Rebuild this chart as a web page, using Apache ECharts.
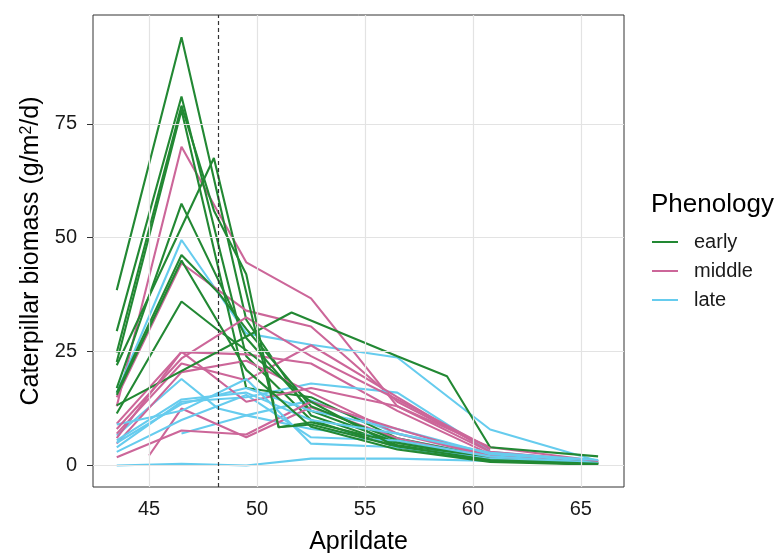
<!DOCTYPE html>
<html>
<head>
<meta charset="utf-8">
<style>
  html, body { margin: 0; padding: 0; background: #fff; }
  #chart { width: 778px; height: 553px; }
</style>
<script src="https://cdn.jsdelivr.net/npm/echarts@6/dist/echarts.min.js"></script>
</head>
<body>
<div id="chart"></div>
<script>
// x ticks / y ticks
const xTicks = [45, 50, 55, 60, 65];
const yTicks = [0, 25, 50, 75];
const cutoffDate = 48.2;

// each line: [aprildate, biomass]
const early = [
  [[43.5, 38.5], [46.5, 94], [49.5, 32], [52.5, 11], [56.5, 4.5], [60.8, 1.2], [65.8, 0.4]],
  [[43.5, 29.5], [46.5, 81], [49.5, 24], [52.5, 10], [56.5, 4], [60.8, 1], [65.8, 0.3]],
  [[43.5, 24.8], [46.5, 79], [48, 56], [49.5, 42], [51, 8.4], [52.5, 9.5], [56.5, 5], [60.8, 1.5], [65.8, 0.5]],
  [[43.5, 22.7], [46.5, 78], [49.5, 17], [52.5, 15], [56.5, 6], [60.8, 1.8], [65.8, 0.6]],
  [[43.5, 17], [46.5, 57.5], [49.5, 28], [52.5, 12], [56.5, 5], [60.8, 1.3], [65.8, 0.4]],
  [[43.5, 16], [46.5, 46.2], [48.2, 38], [49.5, 30], [52.5, 13], [56.5, 5.5], [60.8, 1.5], [65.8, 0.5]],
  [[43.5, 11.4], [46.5, 36], [48.2, 29.7], [49.5, 25.3], [52.5, 14], [56.5, 4], [60.8, 1], [65.8, 0.3]],
  [[43.5, 13.2], [51.6, 33.6], [56.5, 24], [58.8, 19.6], [60.8, 4], [65.8, 2]],
  [[43.5, 22], [48, 67.5], [49.5, 38], [51, 8.4], [52.5, 9], [56.5, 4.2], [60.8, 1.2], [65.8, 0.4]],
  [[43.5, 15.5], [46.5, 45], [49.5, 21], [52.5, 8.5], [56.5, 3.5], [60.8, 0.8], [65.8, 0.2]]
];

const middle = [
  [[43.5, 13], [46.5, 70], [49.5, 44.6], [52.5, 36.7], [56.5, 13], [60.8, 3]],
  [[43.5, 15], [46.5, 44.4], [49.5, 34], [52.5, 30.5], [56.5, 14], [60.8, 3.5]],
  [[43.5, 9.2], [46.5, 24.9], [49.5, 24.4], [52.5, 22.4], [56.5, 12], [60.8, 2.5], [65.8, 0.8]],
  [[43.5, 7], [46.5, 22.4], [49.5, 18.7], [52.5, 26.4], [56.5, 15], [60.8, 3], [65.8, 1]],
  [[43.5, 4.8], [46.5, 20.5], [49.5, 23], [52.5, 16], [56.5, 7], [60.8, 2], [65.8, 0.5]],
  [[45, 2.2], [46.5, 12.5], [49.5, 6.2], [52.5, 12.8], [56.5, 6], [60.8, 1.5], [65.8, 0.4]],
  [[43.5, 1.8], [46.5, 7.7], [49.5, 6.8], [52.5, 14], [56.5, 8], [60.8, 2], [65.8, 0.5]],
  [[43.5, 6], [46.5, 25], [49.5, 14], [52.5, 17], [56.5, 13], [60.8, 4], [65.8, 1]],
  [[43.5, 8], [46.5, 23.5], [49.5, 32.5], [52.5, 24], [56.5, 14.5], [60.8, 3.8]]
];

const late = [
  [[43.5, 16], [46.5, 49.5], [49.5, 29], [52.5, 26.5], [56.5, 23.7], [60.8, 7.9], [65.8, 1]],
  [[43.5, 6.6], [46.5, 19], [48.2, 12.5], [49.5, 11], [52.5, 8], [56.5, 6], [60.8, 2], [65.8, 0.8]],
  [[43.5, 4], [46.5, 14], [49.5, 15], [52.5, 18], [56.5, 16], [60.8, 3], [65.8, 0.8]],
  [[46.5, 7], [49.5, 11], [52.5, 14.3], [56.5, 7], [60.8, 2.5], [65.8, 1]],
  [[43.5, 0], [46.5, 0.4], [49.5, 0], [52.5, 1.5], [56.5, 1.5], [60.8, 1], [65.8, 0.5]],
  [[43.5, 5], [46.5, 13.5], [49.5, 17], [52.5, 12], [56.5, 8], [60.8, 2.5], [65.8, 1.2]],
  [[43.5, 3], [46.5, 10], [49.5, 15.5], [52.5, 6.2], [56.5, 5.5], [60.8, 2], [65.8, 0.6]],
  [[43.5, 9], [46.5, 12], [49.5, 19], [52.5, 4.8], [56.5, 4], [60.8, 1.5], [65.8, 0.5]],
  [[43.5, 5.5], [46.5, 14.5], [49.5, 16], [52.5, 10], [56.5, 7], [60.8, 2.8], [65.8, 1.2]]
];

const colors = { early: '#228833', middle: '#CC6699', late: '#66CCEE' };
const font = 'Liberation Sans, Arial, sans-serif';

let myChart = echarts.init(document.getElementById('chart'));

function lineSeries(name, pts) {
  return {
    name: name,
    type: 'line',
    data: pts,
    symbol: 'none',
    showSymbol: false,
    silent: true,
    z: 2,
    lineStyle: { color: colors[name], width: 2.1 },
    itemStyle: { color: colors[name] }
  };
}

let series = [];
// grid lines underneath
series.push({
  type: 'line', data: [], z: 1, silent: true,
  markLine: {
    silent: true, symbol: ['none', 'none'], label: { show: false },
    lineStyle: { color: '#e3e3e3', width: 1.2, type: 'solid' },
    data: xTicks.map(v => ({ xAxis: v })).concat(yTicks.map(v => ({ yAxis: v })))
  }
});
// mix the groups so colours overlap like the original
let n = Math.max(early.length, middle.length, late.length);
for (let i = 0; i < n; i++) {
  if (middle[i]) series.push(lineSeries('middle', middle[i]));
  if (late[i]) series.push(lineSeries('late', late[i]));
  if (early[i]) series.push(lineSeries('early', early[i]));
}
// dashed cut-off date
series.push({
  type: 'line', data: [], z: 5, silent: true,
  markLine: {
    silent: true, symbol: ['none', 'none'], label: { show: false },
    lineStyle: { color: '#333', width: 1.2, type: [4, 3] },
    data: [{ xAxis: cutoffDate }]
  }
});

let option = {
  animation: false,
  backgroundColor: '#fff',
  title: {
    text: 'Phenology',
    left: 651,
    top: 192,
    padding: 0,
    textStyle: { fontFamily: font, fontSize: 26, fontWeight: 'normal', color: '#000' }
  },
  legend: {
    data: ['early', 'middle', 'late'],
    orient: 'vertical',
    left: 652,
    top: 232,
    padding: 0,
    icon: 'rect',
    itemWidth: 26,
    itemHeight: 2,
    itemGap: 9,
    selectedMode: false,
    textStyle: { fontFamily: font, fontSize: 20, lineHeight: 20, color: '#1a1a1a', padding: [0, 0, 0, 11] }
  },
  grid: {
    left: 93, right: 154, top: 15, bottom: 66,
    outerBoundsMode: 'none',
    containLabel: false,
    show: true, borderColor: '#333', borderWidth: 1, backgroundColor: '#fff'
  },
  xAxis: {
    type: 'value',
    min: 42.4,
    max: 67.0,
    name: 'Aprildate',
    nameLocation: 'middle',
    nameGap: 43,
    nameTextStyle: { fontFamily: font, fontSize: 25, color: '#000' },
    axisLine: { show: false },
    axisTick: { show: true, customValues: xTicks, length: 6, lineStyle: { color: '#333', width: 1 } },
    axisLabel: { customValues: xTicks, margin: 12, fontFamily: font, fontSize: 20, color: '#1a1a1a' },
    splitLine: { show: false }
  },
  yAxis: {
    type: 'value',
    min: -4.72,
    max: 98.9,
    name: '{a|Caterpillar biomass (g/m}{b|2}{a|/d)}',
    nameLocation: 'middle',
    nameGap: 48,
    nameTextStyle: {
      rich: {
        a: { fontFamily: font, fontSize: 25, color: '#000' },
        b: { fontFamily: font, fontSize: 16, color: '#000', verticalAlign: 'top', padding: [0, 0, 10, 0] }
      }
    },
    axisLine: { show: false },
    axisTick: { show: true, customValues: yTicks, length: 6, lineStyle: { color: '#333', width: 1 } },
    axisLabel: { customValues: yTicks, margin: 16, fontFamily: font, fontSize: 20, color: '#1a1a1a' },
    splitLine: { show: false }
  },
  series: series
};

myChart.setOption(option);
</script>
</body>
</html>
